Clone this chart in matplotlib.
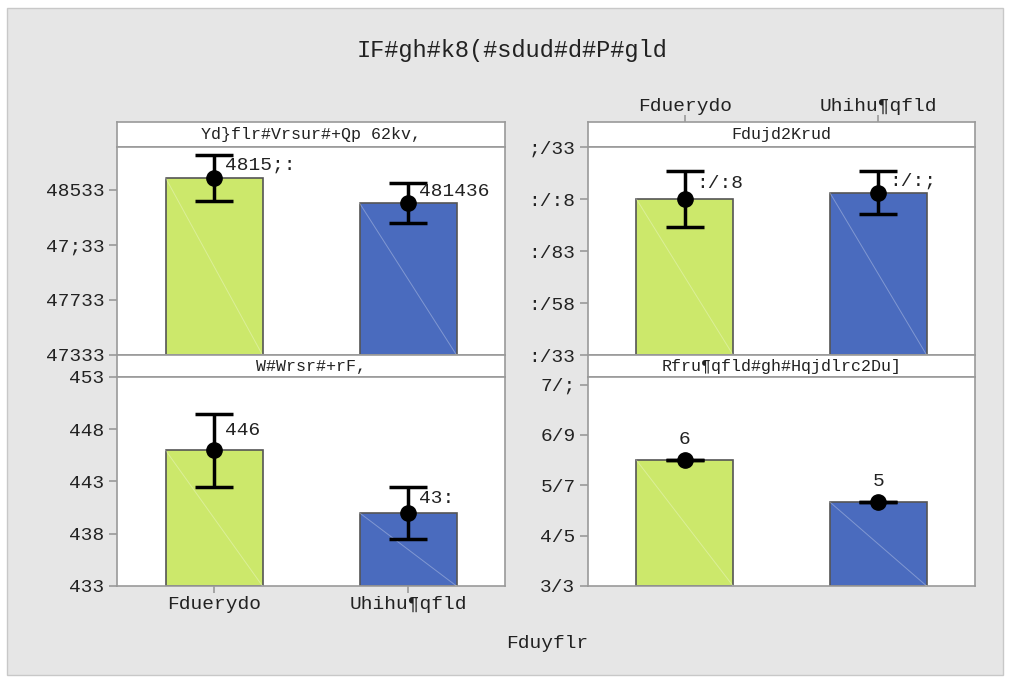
import matplotlib
matplotlib.use("Agg")
import matplotlib.pyplot as plt
from matplotlib.patches import Rectangle

# ---------------- data ----------------
categories = ["Fduerydo", "Uhihu¶qfld"]
title = "IF#gh#k8(#sdud#d#P#gld"
xlabel = "Fduyflr"

panel_titles = ["Yd}flr#Vrsur#+Qp 62kv,", "Fdujd2Krud", "W#Wrsr#+rF,", "Rfru¶qfld#gh#Hqjdlrc2Du]"]

means_tl = [15287, 15103]
err_tl = [166, 148]
labels_tl = ["4815;:", "481436"]
ylim_tl = (14000, 15510)
ticks_tl = [14000, 14400, 14800, 15200]
ticklabels_tl = ["47333", "47733", "47;33", "48533"]

means_tr = [7.75, 7.78]
err_tr = [0.135, 0.104]
labels_tr = [":/:8", ":/:;"]
ylim_tr = (7.0, 8.0)
ticks_tr = [7.0, 7.25, 7.5, 7.75, 8.0]
ticklabels_tr = [":/33", ":/58", ":/83", ":/:8", ";/33"]

means_bl = [113, 107]
err_bl = [3.5, 2.5]
labels_bl = ["446", "43:"]
ylim_bl = (100, 120)
ticks_bl = [100, 105, 110, 115, 120]
ticklabels_bl = ["433", "438", "443", "448", "453"]

means_br = [3, 2]
err_br = [0, 0]
labels_br = ["6", "5"]
ylim_br = (0, 4.98)
ticks_br = [0, 1.2, 2.4, 3.6, 4.8]
ticklabels_br = ["3/3", "4/5", "5/7", "6/9", "7/;"]

bar_colors = ["#cce86b", "#4a6bbe"]
FONT = "Liberation Mono"

W, H = 1011, 682
fig = plt.figure(figsize=(W / 100, H / 100), dpi=100)
fig.patch.set_facecolor("white")
bg = Rectangle((7 / W, 7 / H), (W - 15) / W, (H - 15) / H,
               transform=fig.transFigure, facecolor="#e6e6e6",
               edgecolor="#c8c8c8", linewidth=1, zorder=-10)
fig.patches.append(bg)

def fx(px):
    return px / W

def fy(py):
    return 1 - py / H

spine_col = "#9a9a9a"

def make_panel(x0, x1, strip_top, strip_bot, data_bot, means, errs, labels,
               ylim, ticks, ticklabels, ptitle, top_labels=False, bottom_labels=False):
    # strip
    sax = fig.add_axes([fx(x0), fy(strip_bot), fx(x1 - x0), (strip_bot - strip_top) / H])
    sax.set_facecolor("white")
    sax.set_xticks([]); sax.set_yticks([])
    for s in sax.spines.values():
        s.set_color(spine_col); s.set_linewidth(1.2)
    sax.text(0.5, 0.5, ptitle, ha="center", va="center", fontsize=12,
             family=FONT, color="#222222", transform=sax.transAxes)
    # data axes
    ax = fig.add_axes([fx(x0), fy(data_bot), fx(x1 - x0), (data_bot - strip_bot) / H])
    ax.set_facecolor("white")
    for s in ax.spines.values():
        s.set_color(spine_col); s.set_linewidth(1.2)
    ax.set_xlim(-0.5, 1.5)
    ax.set_ylim(*ylim)
    xs = list(range(len(categories)))
    width = 0.5
    ax.bar(xs, [m - ylim[0] for m in means], bottom=ylim[0], width=width,
           color=bar_colors, edgecolor="#555555", linewidth=1.2, zorder=2)
    # faint diagonal highlight on bars
    for x, m in zip(xs, means):
        ax.plot([x - width / 2, x + width / 2], [m, ylim[0]], color="white",
                alpha=0.3, linewidth=0.7, zorder=3)
    ax.errorbar(xs, means, yerr=errs, fmt="o", color="black", markersize=11,
                elinewidth=2.5, capsize=13.5, capthick=2.5, zorder=4)
    for x, m, e, lab in zip(xs, means, errs, labels):
        if e > 0:
            ax.annotate(lab, (x, m + e * 0.55), xytext=(8, 0), textcoords="offset points",
                        ha="left", va="center", fontsize=14, family=FONT, color="#222222", zorder=5)
        else:
            ax.annotate(lab, (x, m), xytext=(0, 9), textcoords="offset points",
                        ha="center", va="bottom", fontsize=14, family=FONT, color="#222222", zorder=5)
    ax.set_yticks(ticks)
    ax.set_yticklabels(ticklabels, family=FONT, fontsize=14, color="#222222")
    ax.tick_params(axis="y", direction="out", length=6, color=spine_col, width=1.2, pad=3)
    ax.set_xticks(xs)
    if bottom_labels:
        ax.set_xticklabels(categories, family=FONT, fontsize=14, color="#222222")
        ax.tick_params(axis="x", direction="out", length=5, color=spine_col, width=1.2, pad=2)
    else:
        ax.tick_params(axis="x", length=0, labelbottom=False)
    if top_labels:
        tax = sax.twiny()
        tax.set_xlim(-0.5, 1.5)
        tax.set_xticks(xs)
        tax.set_xticklabels(categories, family=FONT, fontsize=14, color="#222222")
        tax.tick_params(axis="x", direction="out", length=5, color=spine_col, width=1.2, pad=0)
        for s in tax.spines.values():
            s.set_visible(False)
    return ax

make_panel(117, 505, 122, 147, 355, means_tl, err_tl, labels_tl, ylim_tl,
           ticks_tl, ticklabels_tl, panel_titles[0])
make_panel(588, 975, 122, 147, 355, means_tr, err_tr, labels_tr, ylim_tr,
           ticks_tr, ticklabels_tr, panel_titles[1], top_labels=True)
make_panel(117, 505, 355, 377, 586, means_bl, err_bl, labels_bl, ylim_bl,
           ticks_bl, ticklabels_bl, panel_titles[2], bottom_labels=True)
make_panel(588, 975, 355, 377, 586, means_br, err_br, labels_br, ylim_br,
           ticks_br, ticklabels_br, panel_titles[3])

fig.text(fx(512), fy(50), title, ha="center", va="center", fontsize=17,
         family=FONT, color="#222222")
fig.text(fx(547), fy(643), xlabel, ha="center", va="center", fontsize=14,
         family=FONT, color="#222222")

fig.savefig("out.png", dpi=100, facecolor=fig.get_facecolor())
